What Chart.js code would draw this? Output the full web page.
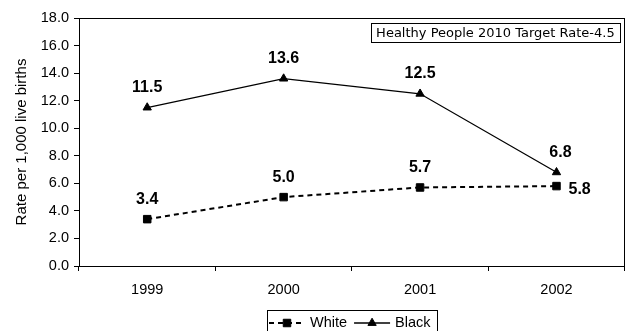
<!DOCTYPE html>
<html>
<head>
<meta charset="utf-8">
<script src="https://cdn.jsdelivr.net/npm/chart.js@4"></script>
<style>
  html, body { margin: 0; padding: 0; background: #ffffff; }
  #wrap { width: 631px; height: 331px; }
</style>
</head>
<body>
<div id="wrap"><canvas id="c" width="631" height="331"></canvas></div>
<script>
// Infant mortality rates by race, 1999-2002
const years = ['1999', '2000', '2001', '2002'];
const whiteRates = [3.4, 5.0, 5.7, 5.8];
const blackRates = [11.5, 13.6, 12.5, 6.8];
const seriesNames = ['White', 'Black'];
const yMin = 0, yMax = 18, yStep = 2;
const yTitle = 'Rate per 1,000 live births';
const targetNote = 'Healthy People 2010 Target Rate-4.5';

const FONT = '"Liberation Sans", Arial, sans-serif';

// Box around the plotting area
const framePlugin = {
  id: 'frame',
  afterDraw(chart) {
    const { ctx, chartArea: a } = chart;
    ctx.save();
    ctx.strokeStyle = '#000';
    ctx.lineWidth = 1;
    ctx.strokeRect(Math.round(a.left) + 0.5, Math.round(a.top) + 0.5,
                   Math.round(a.right - a.left) - 1, Math.round(a.bottom - a.top));
    ctx.restore();
  }
};

// Bold value labels next to each point
const valueLabels = {
  id: 'valueLabels',
  afterDatasetsDraw(chart) {
    const { ctx } = chart;
    ctx.save();
    ctx.fillStyle = '#000';
    ctx.font = 'bold 16px ' + FONT;
    chart.data.datasets.forEach((ds, di) => {
      const meta = chart.getDatasetMeta(di);
      meta.data.forEach((pt, i) => {
        const txt = ds.data[i].toFixed(1);
        const side = (ds.labelSides && ds.labelSides[i]) || 'above';
        ctx.textBaseline = 'middle';
        if (side === 'right') {
          ctx.textAlign = 'left';
          ctx.fillText(txt, pt.x + 12, pt.y + 4);
        } else {
          ctx.textAlign = 'center';
          ctx.fillText(txt, pt.x + (ds.labelShiftX ? ds.labelShiftX[i] : 0), pt.y - 20);
        }
      });
    });
    ctx.restore();
  }
};

// Target-rate note in the upper right corner of the plot
const notePlugin = {
  id: 'note',
  afterDraw(chart) {
    const { ctx, chartArea: a } = chart;
    ctx.save();
    ctx.font = '13px "DejaVu Sans", Verdana, sans-serif';
    const w = ctx.measureText(targetNote).width + 10;
    const h = 19;
    const right = a.right - 5;
    const top = a.top + 5;
    ctx.fillStyle = '#fff';
    ctx.fillRect(right - w, top, w, h);
    ctx.strokeStyle = '#000';
    ctx.lineWidth = 1;
    ctx.strokeRect(Math.round(right - w) + 0.5, top + 0.5, Math.round(w), h);
    ctx.fillStyle = '#000';
    ctx.textAlign = 'left';
    ctx.textBaseline = 'middle';
    ctx.fillText(targetNote, right - w + 5, top + h / 2 + 1);
    ctx.restore();
  }
};

// Boxed legend under the axis, each entry showing its line style and marker
const boxLegend = {
  id: 'boxLegend',
  afterDraw(chart) {
    const { ctx, chartArea: a } = chart;
    ctx.save();
    ctx.font = '14.5px ' + FONT;
    const lineLen = 36, gapLine = 5, gapItem = 7, padL = 2, padR = 6;
    const items = chart.data.datasets.map(ds => ({ ds, w: ctx.measureText(ds.label).width }));
    let total = padL + padR;
    items.forEach((it, k) => { total += lineLen + gapLine + it.w + (k < items.length - 1 ? gapItem : 0); });
    const cx = (a.left + a.right) / 2;
    const left = Math.round(cx - total / 2);
    const top = 310, h = 24, midY = 323;
    ctx.strokeStyle = '#000';
    ctx.lineWidth = 1;
    ctx.strokeRect(left + 0.5, top + 0.5, Math.round(total), h);
    let x = left + padL;
    items.forEach(it => {
      const ds = it.ds;
      ctx.save();
      ctx.strokeStyle = ds.borderColor;
      ctx.lineWidth = ds.borderWidth;
      ctx.setLineDash(ds.borderDash || []);
      ctx.beginPath();
      ctx.moveTo(x, midY);
      ctx.lineTo(x + lineLen, midY);
      ctx.stroke();
      ctx.restore();
      ctx.fillStyle = '#000';
      ctx.strokeStyle = '#000';
      Chart.helpers.drawPoint(ctx, {
        pointStyle: ds.pointStyle, radius: ds.pointRadius, borderWidth: 1, rotation: 0
      }, x + lineLen / 2, midY);
      x += lineLen + gapLine;
      ctx.fillStyle = '#000';
      ctx.textAlign = 'left';
      ctx.textBaseline = 'middle';
      ctx.fillText(ds.label, x, midY);
      x += it.w + gapItem;
    });
    ctx.restore();
  }
};

new Chart(document.getElementById('c'), {
  type: 'line',
  data: {
    labels: years,
    datasets: [
      {
        label: seriesNames[0],
        data: whiteRates,
        borderColor: '#000',
        backgroundColor: '#000',
        borderWidth: 2,
        borderDash: [5, 4],
        pointStyle: 'rect',
        pointRadius: 5.3,
        pointBackgroundColor: '#000',
        pointBorderColor: '#000',
        pointBorderWidth: 1,
        tension: 0,
        labelSides: ['above', 'above', 'above', 'right']
      },
      {
        label: seriesNames[1],
        data: blackRates,
        borderColor: '#000',
        backgroundColor: '#000',
        borderWidth: 1.3,
        pointStyle: 'triangle',
        pointRadius: 4.8,
        pointBackgroundColor: '#000',
        pointBorderColor: '#000',
        pointBorderWidth: 1,
        tension: 0,
        labelShiftX: [0, 0, 0, 4]
      }
    ]
  },
  options: {
    responsive: false,
    animation: false,
    devicePixelRatio: 1,
    layout: { padding: { left: 0, right: 3, top: 18, bottom: 31 } },
    plugins: {
      legend: { display: false },
      tooltip: { enabled: false }
    },
    scales: {
      x: {
        type: 'category',
        offset: true,
        afterFit(s) { s.height = 34; },
        grid: {
          offset: true,
          drawOnChartArea: false,
          drawTicks: true,
          tickLength: 5,
          color: '#000',
          lineWidth: 1
        },
        border: { display: true, color: '#000', width: 1 },
        ticks: {
          color: '#000',
          font: { family: FONT, size: 14.5 },
          padding: 10,
          maxRotation: 0
        }
      },
      y: {
        min: yMin,
        max: yMax,
        afterFit(s) { s.width = 79; },
        grid: {
          drawOnChartArea: false,
          drawTicks: true,
          tickLength: 5,
          color: '#000',
          lineWidth: 1
        },
        border: { display: true, color: '#000', width: 1 },
        ticks: {
          stepSize: yStep,
          color: '#000',
          font: { family: FONT, size: 14.5 },
          padding: 5,
          callback: v => Number(v).toFixed(1)
        },
        title: {
          display: true,
          text: yTitle,
          color: '#000',
          font: { family: FONT, size: 15 },
          padding: { top: 13, bottom: 0 }
        }
      }
    }
  },
  plugins: [framePlugin, valueLabels, notePlugin, boxLegend]
});
</script>
</body>
</html>
